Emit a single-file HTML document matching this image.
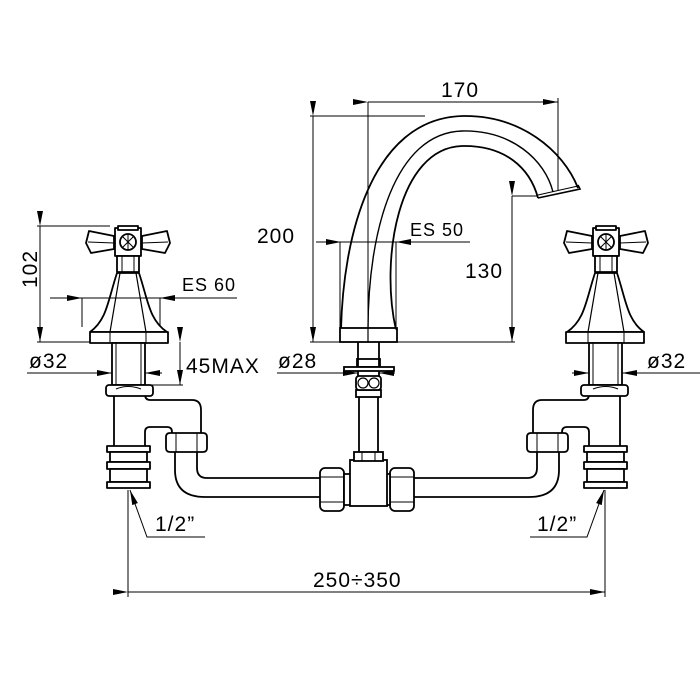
<!DOCTYPE html>
<html><head><style>
html,body{margin:0;padding:0;background:#fff;}
svg{display:block;}
text{font-family:"Liberation Sans",sans-serif;fill:#000;letter-spacing:1px;}
</style></head><body>
<svg width="700" height="700" viewBox="0 0 700 700" xmlns="http://www.w3.org/2000/svg">
<defs>
<marker id="a" markerWidth="15" markerHeight="6" refX="15" refY="3" orient="auto" markerUnits="userSpaceOnUse"><path d="M0,0 L15,3 L0,6 Z" fill="#000"/></marker>
<g id="valve" fill="#fff" stroke="#000" stroke-width="1.8" stroke-linejoin="round">
 <path d="M114,236 L89,231 L86,243 L91,253 L114,249 Z"/>
 <path d="M142,236 L167,231 L170,243 L165,253 L142,249 Z"/>
 <line x1="88" y1="242" x2="114" y2="243" stroke-width="1"/>
 <line x1="168" y1="242" x2="142" y2="243" stroke-width="1"/>
 <rect x="115" y="228" width="26" height="28"/>
 <rect x="118" y="226" width="20" height="4"/>
 <circle cx="128" cy="242" r="8"/>
 <path d="M122,236 L134,248 M134,236 L122,248 M128,234 V250" stroke-width="1"/>
 <rect x="117" y="256" width="22" height="16"/>
 <line x1="122" y1="256" x2="122" y2="272" stroke-width="1"/>
 <line x1="134" y1="256" x2="134" y2="272" stroke-width="1"/>
 <path d="M117,273 L139,273 C148,300 149,320 167,332 L90,332 C107,320 108,300 117,273 Z"/>
 <path d="M120,273 L110,332 M136,273 L146,332" fill="none" stroke-width="1.2"/>
 <rect x="90" y="332" width="78" height="11"/>
 <line x1="110" y1="332" x2="110" y2="343" stroke-width="1"/>
 <line x1="146" y1="332" x2="146" y2="343" stroke-width="1"/>
 <rect x="112" y="343" width="33" height="42"/>
 <line x1="116" y1="343" x2="116" y2="385" stroke-width="1"/>
 <line x1="141" y1="343" x2="141" y2="385" stroke-width="1"/>
 <rect x="106" y="385" width="47" height="11" rx="3"/>
 <path d="M116,389 Q128,384 141,389" fill="none" stroke-width="1"/>
 <!-- elbow -->
 <path d="M114,396 V447 M145,396 Q146,400 150,400 L192,400 Q201,400 201,410 V434 M172,434 V432 Q172,427 167,427 L150,427 Q145,427 145,432 V447" fill="none"/>
 <rect x="107" y="446" width="43" height="6"/>
 <rect x="110" y="452" width="37" height="10"/>
 <rect x="107" y="462" width="43" height="7"/>
 <rect x="110" y="469" width="37" height="13"/>
 <rect x="107" y="482" width="43" height="6"/>
 <!-- nut -->
 <path d="M170,433 L203,433 Q207,433 207,437 L207,448 Q207,452 203,452 L170,452 Q166,452 166,448 L166,437 Q166,433 170,433 Z"/>
 <line x1="176" y1="433" x2="176" y2="452" stroke-width="1"/>
 <line x1="197" y1="433" x2="197" y2="452" stroke-width="1"/>
 <path d="M175,452 V470 Q175,497 205,497 L322,497 M197,452 V468 Q197,478 207,478 L322,478" fill="none"/>
 <rect x="320" y="468" width="24" height="43" rx="5"/>
 <line x1="320" y1="477" x2="344" y2="477" stroke-width="1"/>
 <line x1="320" y1="502" x2="344" y2="502" stroke-width="1"/>
 <rect x="344" y="474" width="7" height="31"/>
</g>
</defs>
<g fill="none" stroke="#000" stroke-width="1.8">
<use href="#valve"/>
<use href="#valve" transform="translate(734,0) scale(-1,1)"/>
<rect x="350" y="460" width="37" height="46" fill="#fff"/>
<rect x="354" y="452" width="29" height="9" fill="#fff"/>
<line x1="362" y1="452" x2="362" y2="461" stroke-width="1"/>
<line x1="375" y1="452" x2="375" y2="461" stroke-width="1"/>
<path d="M359,390 V452 M378,390 V452"/>
<rect x="356" y="390" width="25" height="7" fill="#fff"/>
<rect x="356" y="376" width="25" height="14" rx="3" fill="#fff"/>
<circle cx="363" cy="383" r="5" stroke-width="1.2"/>
<circle cx="374" cy="383" r="5" stroke-width="1.2"/>
<rect x="357" y="359" width="23" height="8"/>
<path d="M358,342 V376 M379,342 V376"/>
<rect x="344" y="367" width="50" height="4" fill="#fff"/>
<path d="M341,330 C343,240 370,118 463,116 C520,115 563,150 578,188"/>
<path d="M368,330 C368,230 395,133 462,131 C512,130 545,160 553,192" stroke-width="1.4"/>
<path d="M396,330 C380,260 398,148 462,146 C505,145 530,168 538,198"/>
<path d="M538,198 L580,189 L578,185" stroke-width="1.6"/>
<line x1="538" y1="195" x2="578" y2="186" stroke-width="1"/>
<rect x="340" y="328" width="57" height="14" fill="#fff"/>
<line x1="368" y1="328" x2="368" y2="342" stroke-width="1.2"/>
</g>
<g stroke="#000" stroke-width="1" fill="none">
<line x1="368" y1="102" x2="558" y2="102" marker-start="url(#a)" marker-end="url(#a)"/>
<line x1="368" y1="102" x2="368" y2="330"/>
<line x1="558" y1="98" x2="558" y2="190"/>
<line x1="313" y1="116" x2="313" y2="342" marker-start="url(#a)" marker-end="url(#a)"/>
<line x1="310" y1="116" x2="425" y2="116"/>
<line x1="310" y1="342" x2="515" y2="342"/>
<line x1="512" y1="196" x2="512" y2="342" marker-start="url(#a)" marker-end="url(#a)"/>
<line x1="512" y1="196" x2="538" y2="196"/>
<line x1="316" y1="242" x2="341" y2="242" marker-end="url(#a)"/>
<line x1="341" y1="242" x2="396" y2="242"/>
<line x1="470" y1="242" x2="396" y2="242" marker-end="url(#a)"/>
<line x1="340" y1="242" x2="340" y2="330"/>
<line x1="396" y1="242" x2="396" y2="330"/>
<line x1="40" y1="226" x2="40" y2="342" marker-start="url(#a)" marker-end="url(#a)"/>
<line x1="37" y1="226" x2="110" y2="226"/>
<line x1="37" y1="342" x2="90" y2="342"/>
<line x1="50" y1="298" x2="82" y2="298" marker-end="url(#a)"/>
<line x1="82" y1="298" x2="160" y2="298"/>
<line x1="237" y1="298" x2="160" y2="298" marker-end="url(#a)"/>
<line x1="82" y1="298" x2="82" y2="327"/>
<line x1="160" y1="298" x2="160" y2="327"/>
<line x1="27" y1="373" x2="112" y2="373" marker-end="url(#a)"/>
<line x1="162" y1="373" x2="145" y2="373" marker-end="url(#a)"/>
<line x1="180" y1="342" x2="180" y2="385" marker-start="url(#a)" marker-end="url(#a)"/>
<line x1="150" y1="385" x2="183" y2="385"/>
<line x1="277" y1="373" x2="358" y2="373" marker-end="url(#a)"/>
<line x1="395" y1="373" x2="379" y2="373" marker-end="url(#a)"/>
<line x1="707" y1="373" x2="622" y2="373" marker-end="url(#a)"/>
<line x1="572" y1="373" x2="589" y2="373" marker-end="url(#a)"/>
<polyline points="205,537 147,537 130,490" marker-end="url(#a)"/>
<polyline points="530,537 587,537 604,490" marker-end="url(#a)"/>
<line x1="128" y1="490" x2="128" y2="597"/>
<line x1="605" y1="490" x2="605" y2="597"/>
<line x1="128" y1="592" x2="605" y2="592" marker-start="url(#a)" marker-end="url(#a)"/>
</g>
<g font-size="21">
<text x="441" y="97">170</text>
<text x="257" y="243">200</text>
<text x="465" y="278">130</text>
<text x="410" y="236" font-size="18">ES 50</text>
<text x="182" y="291" font-size="18">ES 60</text>
<text transform="translate(37,288) rotate(-90)">102</text>
<text x="29" y="368">ø32</text>
<text x="186" y="373">45MAX</text>
<text x="278" y="368">ø28</text>
<text x="647" y="368">ø32</text>
<text x="155" y="531">1/2”</text>
<text x="537" y="531">1/2”</text>
<text x="313" y="587">250÷350</text>
</g>
</svg>
</body></html>
